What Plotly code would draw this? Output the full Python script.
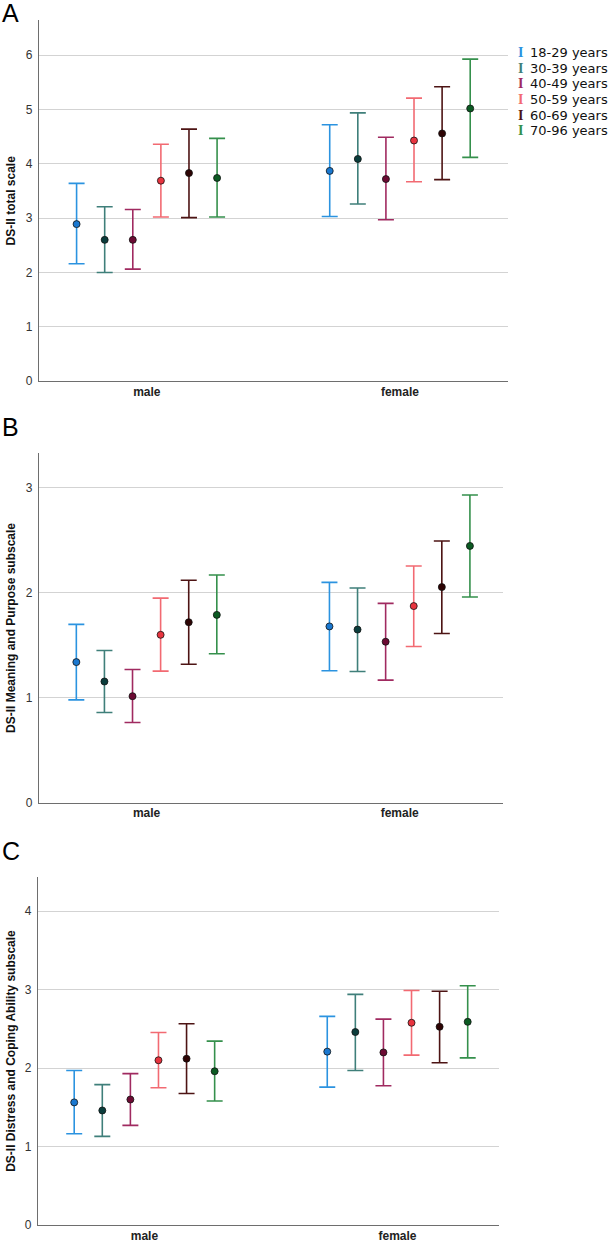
import plotly.graph_objects as go

# ---------------- data ----------------
sexes = ["male", "female"]
age_groups = ["18-29 years", "30-39 years", "40-49 years",
              "50-59 years", "60-69 years", "70-96 years"]

# Panel A: DS-II total scale (mean, lower CI, upper CI)
total_male_mean = [2.89, 2.60, 2.60, 3.69, 3.83, 3.74]
total_male_lo   = [2.16, 2.00, 2.06, 3.02, 3.01, 3.02]
total_male_hi   = [3.64, 3.21, 3.16, 4.36, 4.64, 4.47]
total_female_mean = [3.87, 4.09, 3.72, 4.43, 4.56, 5.02]
total_female_lo   = [3.03, 3.26, 2.97, 3.67, 3.71, 4.12]
total_female_hi   = [4.72, 4.94, 4.49, 5.21, 5.42, 5.93]

# Panel B: DS-II Meaning and Purpose subscale
mp_male_mean = [1.34, 1.155, 1.015, 1.60, 1.72, 1.79]
mp_male_lo   = [0.98, 0.86, 0.764, 1.254, 1.32, 1.42]
mp_male_hi   = [1.70, 1.45, 1.27, 1.95, 2.12, 2.17]
mp_female_mean = [1.68, 1.65, 1.534, 1.874, 2.055, 2.447]
mp_female_lo   = [1.257, 1.25, 1.168, 1.489, 1.613, 1.96]
mp_female_hi   = [2.10, 2.046, 1.90, 2.256, 2.494, 2.933]

# Panel C: DS-II Distress and Coping Ability subscale
dc_male_mean = [1.563, 1.46, 1.60, 2.10, 2.12, 1.96]
dc_male_lo   = [1.163, 1.13, 1.27, 1.75, 1.677, 1.58]
dc_male_hi   = [1.97, 1.79, 1.93, 2.454, 2.565, 2.344]
dc_female_mean = [2.21, 2.46, 2.20, 2.578, 2.527, 2.59]
dc_female_lo   = [1.758, 1.97, 1.775, 2.166, 2.068, 2.13]
dc_female_hi   = [2.66, 2.94, 2.624, 2.99, 2.98, 3.05]

panel_letters = ["A", "B", "C"]
panel_titles = ["DS-II total scale",
                "DS-II Meaning and Purpose subscale",
                "DS-II Distress and Coping Ability subscale"]

# ---------------- styles ----------------
bar_colors = ["#2b93e0", "#3f7f7a", "#a02a60", "#f26a72", "#4d1414", "#35904c"]
dot_colors = ["#1a78d0", "#0b3d3c", "#6c0b33", "#e8343f", "#2e0404", "#0b5a22"]

W, H = 611, 1241
# pixel geometry of each panel: (left, right, top, bottom), y-range max, x-range
panel_geo = [
    dict(l=39, r=507.8, t=20, b=381, ymax=6.65, xr=[-0.426, 1.426]),
    dict(l=39, r=502.7, t=453.3, b=802.7, ymax=3.33, xr=[-0.425, 1.407]),
    dict(l=37.9, r=499.2, t=876.7, b=1225, ymax=4.44, xr=[-0.421, 1.402]),
]
letter_y = [13, 427, 851]
step = 0.111

panels = [
    (total_male_mean, total_male_lo, total_male_hi, total_female_mean, total_female_lo, total_female_hi),
    (mp_male_mean, mp_male_lo, mp_male_hi, mp_female_mean, mp_female_lo, mp_female_hi),
    (dc_male_mean, dc_male_lo, dc_male_hi, dc_female_mean, dc_female_lo, dc_female_hi),
]

fig = go.Figure()
annotations = []
layout_axes = {}

for p, (mm, ml, mh, fm, fl, fh) in enumerate(panels):
    xa = "x" if p == 0 else f"x{p+1}"
    ya = "y" if p == 0 else f"y{p+1}"
    for i, name in enumerate(age_groups):
        means = [mm[i], fm[i]]
        lows = [ml[i], fl[i]]
        highs = [mh[i], fh[i]]
        xs = [k + (i - 2.5) * step for k in range(len(sexes))]
        fig.add_trace(go.Scatter(
            x=xs, y=means, mode="markers", name=name, showlegend=False,
            xaxis=xa, yaxis=ya,
            marker=dict(size=7, color=dot_colors[i],
                        line=dict(color="#111111", width=0.8)),
            error_y=dict(type="data", symmetric=False,
                         array=[h - m for h, m in zip(highs, means)],
                         arrayminus=[m - l for m, l in zip(means, lows)],
                         color=bar_colors[i], thickness=1.6, width=8),
        ))
    g = panel_geo[p]
    xkey = "xaxis" if p == 0 else f"xaxis{p+1}"
    ykey = "yaxis" if p == 0 else f"yaxis{p+1}"
    layout_axes[xkey] = dict(
        domain=[g["l"] / W, g["r"] / W], range=g["xr"], anchor=ya,
        tickmode="array", tickvals=list(range(len(sexes))), ticktext=sexes,
        tickfont=dict(family="Liberation Sans", size=12, color="#222222", weight="bold"),
        showgrid=False, zeroline=False, showline=True, linecolor="#6e6e6e",
        linewidth=1.2, ticks="", ticklabelstandoff=-1, automargin=False,
    )
    layout_axes[ykey] = dict(
        domain=[1 - g["b"] / H, 1 - g["t"] / H], range=[0, g["ymax"]], anchor=xa,
        dtick=1, tick0=0, showgrid=True, gridcolor="#d3d3d3", gridwidth=1,
        zeroline=False, showline=True, linecolor="#6e6e6e", linewidth=1.2,
        ticks="", ticklabelstandoff=3,
        tickfont=dict(family="Liberation Sans", size=12, color="#333333"),
        automargin=False,
    )
    # y-axis title
    annotations.append(dict(
        text=panel_titles[p], xref="paper", yref="paper",
        x=11 / W, y=1 - (g["t"] + g["b"]) / 2 / H, xanchor="center", yanchor="middle",
        textangle=-90, showarrow=False,
        font=dict(family="Liberation Sans", size=12, color="#111111", weight="bold"),
    ))
    # panel letter
    annotations.append(dict(
        text=panel_letters[p], xref="paper", yref="paper",
        x=0, y=1 - letter_y[p] / H, xanchor="left", yanchor="middle",
        showarrow=False, font=dict(family="Liberation Sans", size=25, color="#000000"),
    ))

# legend (panel A)
legend_y0, legend_dy = 52.7, 15.6
for i, name in enumerate(age_groups):
    yy = 1 - (legend_y0 + i * legend_dy) / H
    annotations.append(dict(
        text="I", xref="paper", yref="paper", x=520.5 / W, y=yy,
        xanchor="center", yanchor="middle", showarrow=False,
        font=dict(family="Liberation Serif", size=14, color=bar_colors[i], weight="bold"),
    ))
    annotations.append(dict(
        text=name, xref="paper", yref="paper", x=528 / W, y=yy,
        xanchor="left", yanchor="middle", showarrow=False,
        font=dict(family="DejaVu Sans", size=13, color="#111111"),
    ))

fig.update_layout(
    width=W, height=H, margin=dict(l=0, r=0, t=0, b=0),
    paper_bgcolor="white", plot_bgcolor="white",
    showlegend=False, annotations=annotations, **layout_axes,
)

fig.write_html("out.html", config={"displayModeBar": False},
               post_script="document.body.style.margin='0';document.body.style.overflow='hidden';")
